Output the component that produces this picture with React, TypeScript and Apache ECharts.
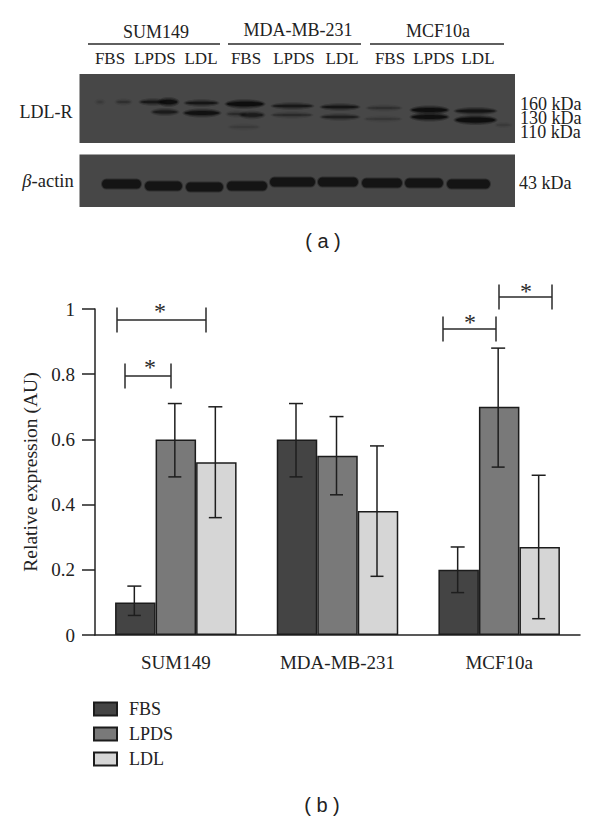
import React, { useEffect, useRef } from "react";
import * as echarts from "echarts";

const categories = ["SUM149", "MDA-MB-231", "MCF10a"];
const seriesNames = ["FBS", "LPDS", "LDL"];
const fbs = [0.1, 0.6, 0.2];
const lpds = [0.6, 0.55, 0.7];
const ldl = [0.53, 0.38, 0.27];
const fbsErr = [[0.06, 0.15], [0.485, 0.71], [0.13, 0.27]];
const lpdsErr = [[0.485, 0.71], [0.43, 0.67], [0.515, 0.88]];
const ldlErr = [[0.36, 0.7], [0.18, 0.58], [0.05, 0.49]];
const barColors = ["#444444", "#797979", "#d6d6d6"];
const yTicks = [0, 0.2, 0.4, 0.6, 0.8, 1];

// x1, x2, y, thickness, darkness of each blot band
const ldlrBands = [
  [97, 103, 102, 1.5, 0.18], [117, 130, 102, 2, 0.3], [141, 165, 102, 2.5, 0.7], [160, 177, 102, 4.5, 0.95], [153, 177, 112, 3, 0.65],
  [186, 217, 103, 2.5, 0.75], [185, 219, 113, 4, 0.85], [227, 263, 104, 4.5, 1], [228, 245, 114, 2, 0.35], [241, 263, 115, 3.5, 0.65],
  [230, 258, 127, 2, 0.13], [273, 312, 106, 2.5, 0.7], [273, 311, 115, 2, 0.35], [322, 358, 107, 2.5, 0.75],
  [322, 358, 117, 2.5, 0.55], [368, 400, 108, 2, 0.3], [366, 400, 119, 2, 0.2], [412, 447, 110, 4, 1],
  [412, 447, 117, 4, 0.95], [456, 495, 111, 3, 0.8], [456, 495, 120, 5, 1], [497, 510, 125, 1, 0.2],
];
const actinBands = [
  [102, 141, 184], [145, 182, 186], [186, 223, 187], [227, 267, 186], [270, 315, 182],
  [318, 358, 182], [362, 402, 183], [405, 443, 183], [447, 490, 184],
];
const laneLabels = [
  ["FBS", 110], ["LPDS", 155], ["LDL", 201], ["FBS", 246], ["LPDS", 294], ["LDL", 342], ["FBS", 390], ["LPDS", 434], ["LDL", 478],
];
const groupLabels = [["SUM149", 156, 88, 220, 32], ["MDA-MB-231", 298, 228, 361, 30], ["MCF10a", 438, 370, 504, 31]];
const kdaStack = "160 kDa\n130 kDa\n110 kDa";
const kdaActin = "43 kDa";
const brackets = [
  [117, 206, 320, 160, 308],
  [125, 171, 376, 150, 364],
  [443, 496, 329, 470, 319],
  [499, 552, 297, 526, 288],
];

const SERIF = '"Liberation Serif", serif';
const INK = "#222222";

function txt(text: string, x: number, y: number, size: number, align = "center", extra: any = {}) {
  return {
    type: "text",
    x,
    y,
    style: { text, fontFamily: SERIF, fontSize: size, fill: INK, align, verticalAlign: "middle", ...extra },
  };
}
function line(x1: number, y1: number, x2: number, y2: number, lineWidth = 1.5) {
  return { type: "line", shape: { x1, y1, x2, y2 }, style: { stroke: "#2a2a2a", lineWidth } };
}

export default function App() {
  const ref = useRef<HTMLDivElement>(null);
  useEffect(() => {
    const chart = echarts.init(ref.current!, undefined, { renderer: "svg" });
    const barData = [fbs, lpds, ldl];
    const errData = [fbsErr, lpdsErr, ldlErr];
    const BAR_W = 40.5;
    const graphics: any[] = [];

    groupLabels.forEach(([t, cx, x1, x2, y]: any) => {
      graphics.push(txt(t, cx, y, 18));
      graphics.push(line(x1, 44, x2, 44, 1.4));
    });
    laneLabels.forEach(([t, x]: any) => graphics.push(txt(t, x, 58, 17)));

    graphics.push({ type: "rect", shape: { x: 79.5, y: 74, width: 435.5, height: 69 }, style: { fill: "#474747" } });
    graphics.push({ type: "rect", shape: { x: 79.5, y: 154.5, width: 435.5, height: 52.5 }, style: { fill: "#474747" } });
    ldlrBands.forEach(([x1, x2, y, h, a]) => {
      const cx = (x1 + x2) / 2;
      const rx = (x2 - x1) / 2;
      graphics.push({
        type: "ellipse",
        shape: { cx, cy: y, rx: rx + 2.5, ry: h / 2 + 2.5 },
        style: { fill: "#0a0a0a", opacity: a * 0.28 },
      });
      graphics.push({
        type: "ellipse",
        shape: { cx, cy: y, rx: rx + 1, ry: h / 2 + 1.2 },
        style: { fill: "#0a0a0a", opacity: a * 0.4 },
      });
      graphics.push({
        type: "ellipse",
        shape: { cx, cy: y, rx, ry: h / 2 },
        style: { fill: "#0a0a0a", opacity: a * 0.85 },
      });
    });
    actinBands.forEach(([x1, x2, y]) => {
      graphics.push({
        type: "rect",
        shape: { x: x1 - 1, y: y - 5.5, width: x2 - x1 + 2, height: 11, r: 5.5 },
        style: { fill: "#101010", opacity: 0.4 },
      });
      graphics.push({
        type: "rect",
        shape: { x: x1, y: y - 4.5, width: x2 - x1, height: 9, r: 4.5 },
        style: { fill: "#141414" },
      });
    });
    graphics.push(txt("LDL-R", 46, 112, 18));
    graphics.push({
      type: "text",
      x: 48,
      y: 181,
      style: {
        text: "{b|β}-actin",
        fontFamily: SERIF,
        fontSize: 18.5,
        fill: INK,
        align: "center",
        verticalAlign: "middle",
        rich: { b: { fontFamily: SERIF, fontStyle: "italic", fontSize: 18.5, fill: INK } },
      },
    });
    graphics.push(txt(kdaStack, 520, 117.5, 18, "left", { lineHeight: 14 }));
    graphics.push(txt(kdaActin, 519, 183, 18, "left"));
    const cap = { fontFamily: '"Liberation Sans", sans-serif' };
    graphics.push(txt("( a )", 323, 241, 20, "center", cap));
    graphics.push(txt("( b )", 322, 805, 20, "center", cap));

    brackets.forEach(([x1, x2, y, sx, sy]) => {
      graphics.push(line(x1, y, x2, y));
      graphics.push(line(x1, y - 12.5, x1, y + 12.5));
      graphics.push(line(x2, y - 12.5, x2, y + 12.5));
      graphics.push(txt("*", sx, sy + 3, 24, "center", { fill: "#2a2a2a" }));
    });

    const option: any = {
      animation: false,
      backgroundColor: "#ffffff",
      textStyle: { fontFamily: SERIF },
      grid: { left: 95, right: 20, top: 309, bottom: 186, containLabel: false },
      legend: {
        orient: "vertical",
        left: 93,
        top: 700,
        padding: 0,
        itemWidth: 23,
        itemHeight: 13,
        itemGap: 7,
        icon: "rect",
        data: seriesNames,
        textStyle: { fontFamily: SERIF, fontSize: 18, color: INK, padding: [0, 0, 0, 7] },
        selectedMode: false,
      },
      xAxis: {
        type: "category",
        data: categories,
        axisLine: { lineStyle: { color: INK, width: 1.5 } },
        axisTick: { alignWithLabel: true, length: 12, lineStyle: { color: INK, width: 1.5 } },
        axisLabel: { fontFamily: SERIF, fontSize: 19, color: INK, margin: 18 },
      },
      yAxis: {
        type: "value",
        min: 0,
        max: 1,
        interval: 0.2,
        name: "Relative expression (AU)",
        nameLocation: "middle",
        nameGap: 55,
        nameTextStyle: { fontFamily: SERIF, fontSize: 19.5, color: INK },
        splitLine: { show: false },
        axisLine: { show: true, lineStyle: { color: INK, width: 1.5 } },
        axisTick: { show: true, length: 13, lineStyle: { color: INK, width: 1.5 } },
        axisLabel: {
          fontFamily: SERIF,
          fontSize: 19,
          color: INK,
          margin: 20,
          formatter: (v: number) => (yTicks.includes(v) ? String(v) : ""),
        },
      },
      series: [
        ...seriesNames.map((name, i) => ({
          name,
          type: "bar",
          data: barData[i],
          barWidth: BAR_W,
          barGap: 0,
          itemStyle: { color: barColors[i], borderColor: "#1c1c1c", borderWidth: 1.5 },
        })),
        ...seriesNames.map((name, i) => ({
          name: name + " error",
          type: "custom",
          data: errData[i].map((e, c) => [c, e[0], e[1]]),
          encode: { x: 0, y: [1, 2] },
          z: 5,
          renderItem: (_p: any, api: any) => {
            const low = api.coord([api.value(0), api.value(1)]);
            const high = api.coord([api.value(0), api.value(2)]);
            const x = low[0] + (i - 1) * BAR_W - 1;
            const style = { stroke: "#1e1e1e", lineWidth: 1.5, fill: "none" };
            return {
              type: "group",
              children: [
                { type: "line", shape: { x1: x, y1: low[1], x2: x, y2: high[1] }, style },
                { type: "line", shape: { x1: x - 6.5, y1: low[1], x2: x + 6.5, y2: low[1] }, style },
                { type: "line", shape: { x1: x - 7, y1: high[1], x2: x + 7, y2: high[1] }, style },
              ],
            };
          },
        })),
      ],
      graphic: { elements: graphics },
    };
    chart.setOption(option);
    return () => chart.dispose();
  }, []);
  return <div ref={ref} style={{ position: "fixed", left: 0, top: 0, width: 600, height: 821 }} />;
}
